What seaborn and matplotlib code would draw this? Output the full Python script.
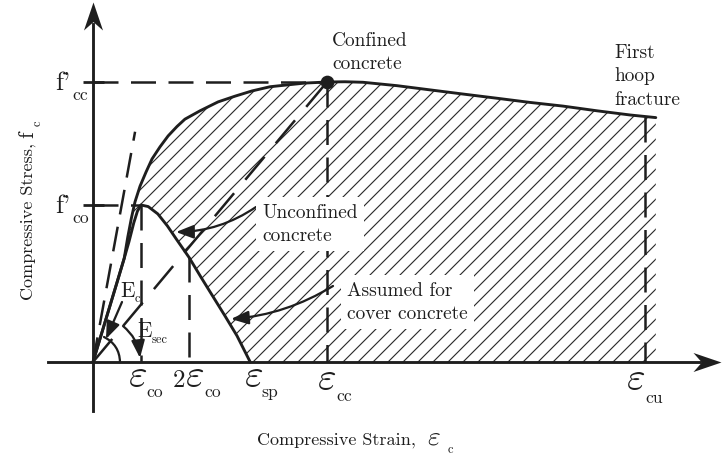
import numpy as np
import pandas as pd
import matplotlib
matplotlib.use("Agg")
import matplotlib.pyplot as plt
import seaborn as sns
from matplotlib.path import Path

# ---------------- data (strain in per mille, stress in MPa) ----------------
eps_co = 2.0
eps_2co = 4.0
eps_sp = 6.55
eps_cc = 9.75
eps_cu = 23.0
f_co = 30.0
f_cc = 53.5

unconf_strain = [0.0, 0.5, 1.0, 1.3, 1.5, 1.7, 1.85, 2.0, 2.3, 2.7, 3.1, 3.5,
                 4.0, 4.5, 5.0, 5.5, 6.0, 6.55]
unconf_stress = [0.0, 7.6, 15.2, 19.8, 23.0, 26.6, 28.8, 30.0, 29.7, 28.3, 26.0,
                 23.3, 20.0, 16.2, 12.5, 8.8, 5.0, 0.0]

conf_strain = [0.0, 0.5, 1.0, 1.3, 1.45, 1.6, 1.75, 1.96, 2.21, 2.46, 2.79, 3.13,
               3.5, 3.83, 4.46, 5.21, 5.92, 6.63, 7.38, 8.0, 8.83, 9.75, 10.5,
               11.25, 12.67, 14.04, 15.42, 16.83, 18.21, 19.58, 21.0, 22.38, 23.45]
conf_stress = [0.0, 7.6, 15.2, 19.8, 23.9, 27.5, 30.6, 33.6, 36.3, 38.8, 41.1, 43.2,
               45.0, 46.4, 48.0, 49.7, 50.8, 51.8, 52.6, 52.9, 53.3, 53.5, 53.55,
               53.45, 52.8, 52.0, 51.2, 50.4, 49.6, 48.9, 48.0, 47.2, 46.7]

Ec_slope = 25.1        # initial tangent modulus drawn as dashed line (MPa per mille)
Ec_line_top = 44.0     # stress where the dashed tangent stops
split_strain = 1.3     # where confined and unconfined curves separate

x_ticks = [eps_co, eps_2co, eps_sp, eps_cc, eps_cu]
x_tick_prefix = ["", "2", "", "", ""]
x_tick_sub = ["co", "co", "sp", "cc", "cu"]
y_ticks = [f_co, f_cc]
y_tick_sub = ["co", "cc"]

# ---------------- figure setup ----------------
sns.set_style("white")
plt.rcParams["font.family"] = "cmr10"
plt.rcParams["mathtext.fontset"] = "cm"
plt.rcParams["axes.unicode_minus"] = False
plt.rcParams["axes.formatter.use_mathtext"] = True
plt.rcParams["hatch.linewidth"] = 0.9

DPI = 90
W, H = 722, 459
fig = plt.figure(figsize=(W / DPI, H / DPI), dpi=DPI)
ax = fig.add_axes([0, 0, 1, 1])
X0, Y0 = 93, 363            # pixel position of the origin
SX, SY = 24.0, 157.0 / 30.0  # pixels per unit
ax.set_xlim(-X0 / SX, (W - X0) / SX)
ax.set_ylim(-(H - Y0) / SY, Y0 / SY)
ax.set_facecolor("white")
INK = "#1e1e1e"


def d(px, py):
    """pixel position -> data coordinates (for decorations only)"""
    return ((px - X0) / SX, (Y0 - py) / SY)


def ftext(px, py, s, **kw):
    fig.text(px / W, 1 - py / H, s, color=INK, **kw)


# axes as arrows through the origin
for s in ["top", "right"]:
    ax.spines[s].set_visible(False)
ax.spines["left"].set_position(("data", 0))
ax.spines["bottom"].set_position(("data", 0))
ax.spines["left"].set_bounds(d(0, 412)[1], d(0, 25)[1])
ax.spines["bottom"].set_bounds(d(48, 0)[0], d(700, 0)[0])
for s in ["left", "bottom"]:
    ax.spines[s].set_linewidth(2.3)
    ax.spines[s].set_color(INK)
    ax.spines[s].set_zorder(3)
ax.set_xticks([])
ax.set_yticks([])

codes = [Path.MOVETO, Path.LINETO, Path.LINETO, Path.LINETO, Path.CLOSEPOLY]
head_r = Path([(0, 0), (-1, 0.34), (-0.7, 0), (-1, -0.34), (0, 0)], codes)
head_u = Path([(0, 0), (0.34, -1), (0, -0.7), (-0.34, -1), (0, 0)], codes)
ms = 2 * 28 / (DPI / 72)
ax.plot([d(721, 0)[0]], [0], marker=head_r, markersize=ms, color=INK, mew=0,
        clip_on=False, zorder=4)
ax.plot([0], [d(0, 3)[1]], marker=head_u, markersize=ms, color=INK, mew=0,
        clip_on=False, zorder=4)

# ---------------- hatched region ----------------
cs, cv = np.array(conf_strain), np.array(conf_stress)
us, uv = np.array(unconf_strain), np.array(unconf_stress)
top = cs >= split_strain
bot = us >= split_strain
poly_x = np.concatenate([cs[top], [cs[-1]], us[bot][::-1]])
poly_y = np.concatenate([cv[top], [0.0], uv[bot][::-1]])
ax.fill(poly_x, poly_y, facecolor="none", edgecolor="#2a2a2a", hatch="//",
        linewidth=0, zorder=1)

# ---------------- dashed guide lines ----------------
guide = dict(color=INK, lw=2.0, dashes=(10, 5), zorder=2, dash_capstyle="butt")
ax.plot([0, eps_cc], [f_cc, f_cc], **guide)
ax.plot([0, eps_co], [f_co, f_co], **guide)
ax.plot([eps_co, eps_co], [f_co, 0], **guide)
ax.plot([eps_2co, eps_2co], [np.interp(eps_2co, us, uv), 0], **guide)
ax.plot([eps_cc, eps_cc], [f_cc, 0], **guide)
ax.plot([eps_cu, eps_cu], [np.interp(eps_cu, cs, cv), 0], **guide)
ax.plot([0, Ec_line_top / Ec_slope], [0, Ec_line_top], **guide)
ax.plot([0, eps_cc], [0, f_cc], color=INK, lw=2.0, dashes=(12, 7), zorder=2)
for v in y_ticks:
    ax.plot([d(83, 0)[0], d(104, 0)[0]], [v, v], color=INK, lw=2.2, zorder=3,
            solid_capstyle="butt")

# ---------------- stress-strain curves ----------------
df = pd.concat([
    pd.DataFrame({"strain": conf_strain, "stress": conf_stress, "curve": "Confined"}),
    pd.DataFrame({"strain": unconf_strain, "stress": unconf_stress, "curve": "Unconfined"}),
])
sns.lineplot(data=df, x="strain", y="stress", hue="curve",
             palette={"Confined": INK, "Unconfined": INK}, sort=False,
             estimator=None, legend=False, linewidth=2.3, ax=ax, zorder=3)
ax.set_xlabel("")
ax.set_ylabel("")
sns.scatterplot(x=[eps_cc], y=[f_cc], s=120, color=INK, edgecolor=INK,
                linewidth=0, ax=ax, zorder=5)

# ---------------- tick labels ----------------
x_off = {  # eps centre dx, eps baseline, sub left dx, sub baseline (pixels)
    0: (-3.5, 24, 5, 34), 1: (6, 24, 15, 34), 2: (3, 24, 11, 34),
    3: (0, 27, 9, 38), 4: (-9, 27, 0, 40)}
for i, (xt, pre, sub) in enumerate(zip(x_ticks, x_tick_prefix, x_tick_sub)):
    ec, eb, sl, sb = x_off[i]
    ax.annotate(r"$\varepsilon$", xy=(xt, 0), xytext=(ec, -eb),
                textcoords="offset pixels", ha="center", va="baseline",
                fontsize=32, color=INK, annotation_clip=False)
    if pre:
        ax.annotate(pre, xy=(xt, 0), xytext=(-4, -eb), textcoords="offset pixels",
                    ha="right", va="baseline", fontsize=20, color=INK,
                    annotation_clip=False)
    ax.annotate(sub, xy=(xt, 0), xytext=(sl, -sb), textcoords="offset pixels",
                ha="left", va="baseline", fontsize=14, color=INK,
                annotation_clip=False)

for v, sub in zip(y_ticks, y_tick_sub):
    ax.annotate("f'", xy=(0, v), xytext=(-23, -7), textcoords="offset pixels",
                ha="right", va="baseline", fontsize=21, color=INK,
                annotation_clip=False)
    ax.annotate(sub, xy=(0, v), xytext=(-21, -17), textcoords="offset pixels",
                ha="left", va="baseline", fontsize=14, color=INK,
                annotation_clip=False)

# ---------------- axis labels ----------------
ftext(257, 445, "Compressive Strain,", fontsize=14.5, ha="left", va="baseline")
ftext(427, 445, r"$\varepsilon$", fontsize=22, ha="left", va="baseline")
ftext(448, 453, "c", fontsize=10, ha="left", va="baseline")
ftext(33, 300, "Compressive Stress,", fontsize=14.5, ha="left", va="baseline",
      rotation=90, rotation_mode="anchor")
ftext(33, 138, "f", fontsize=17, ha="left", va="baseline", rotation=90,
      rotation_mode="anchor")
ftext(41, 126, "c", fontsize=10, ha="left", va="baseline", rotation=90,
      rotation_mode="anchor")

# ---------------- annotations ----------------
txt = dict(fontsize=15.5, ha="left", va="top", linespacing=1.4)
ftext(332, 32, "Confined\nconcrete", **txt)
ftext(614, 44, "First\nhoop\nfracture", **txt)
box = dict(facecolor="white", edgecolor="none", pad=5)
ftext(262, 204, "Unconfined\nconcrete", bbox=box, zorder=4, **txt)
ftext(347, 282, "Assumed for\ncover concrete", bbox=box, zorder=4, **txt)

ftext(120, 297, "E", fontsize=17, ha="left", va="baseline")
ftext(135, 302, "c", fontsize=10, ha="left", va="baseline")
ftext(137, 337, "E", fontsize=17, ha="left", va="baseline")
ftext(152, 343, "sec", fontsize=10, ha="left", va="baseline")

arr = dict(arrowstyle="-|>,head_length=0.65,head_width=0.25", color=INK, lw=1.8,
           shrinkA=0, shrinkB=0, mutation_scale=18)
ax.annotate("", xy=d(176, 233), xytext=d(256, 208),
            arrowprops=dict(connectionstyle="arc3,rad=-0.15", **arr), zorder=6)
ax.annotate("", xy=d(231, 320), xytext=d(333, 287),
            arrowprops=dict(connectionstyle="arc3,rad=-0.12", **arr), zorder=6)
ax.annotate("", xy=d(106, 340), xytext=d(122, 303),
            arrowprops=dict(connectionstyle="arc3,rad=0", **arr), zorder=6)
ax.annotate("", xy=d(140, 359), xytext=d(123, 327),
            arrowprops=dict(connectionstyle="arc3,rad=-0.2", **arr), zorder=6)
ax.annotate("", xy=d(104, 338), xytext=d(120, 363),
            arrowprops=dict(arrowstyle="-", color=INK, lw=1.8, shrinkA=0, shrinkB=0,
                            connectionstyle="arc3,rad=0.3"), zorder=6)

fig.savefig("out.png", dpi=DPI, facecolor="white")
